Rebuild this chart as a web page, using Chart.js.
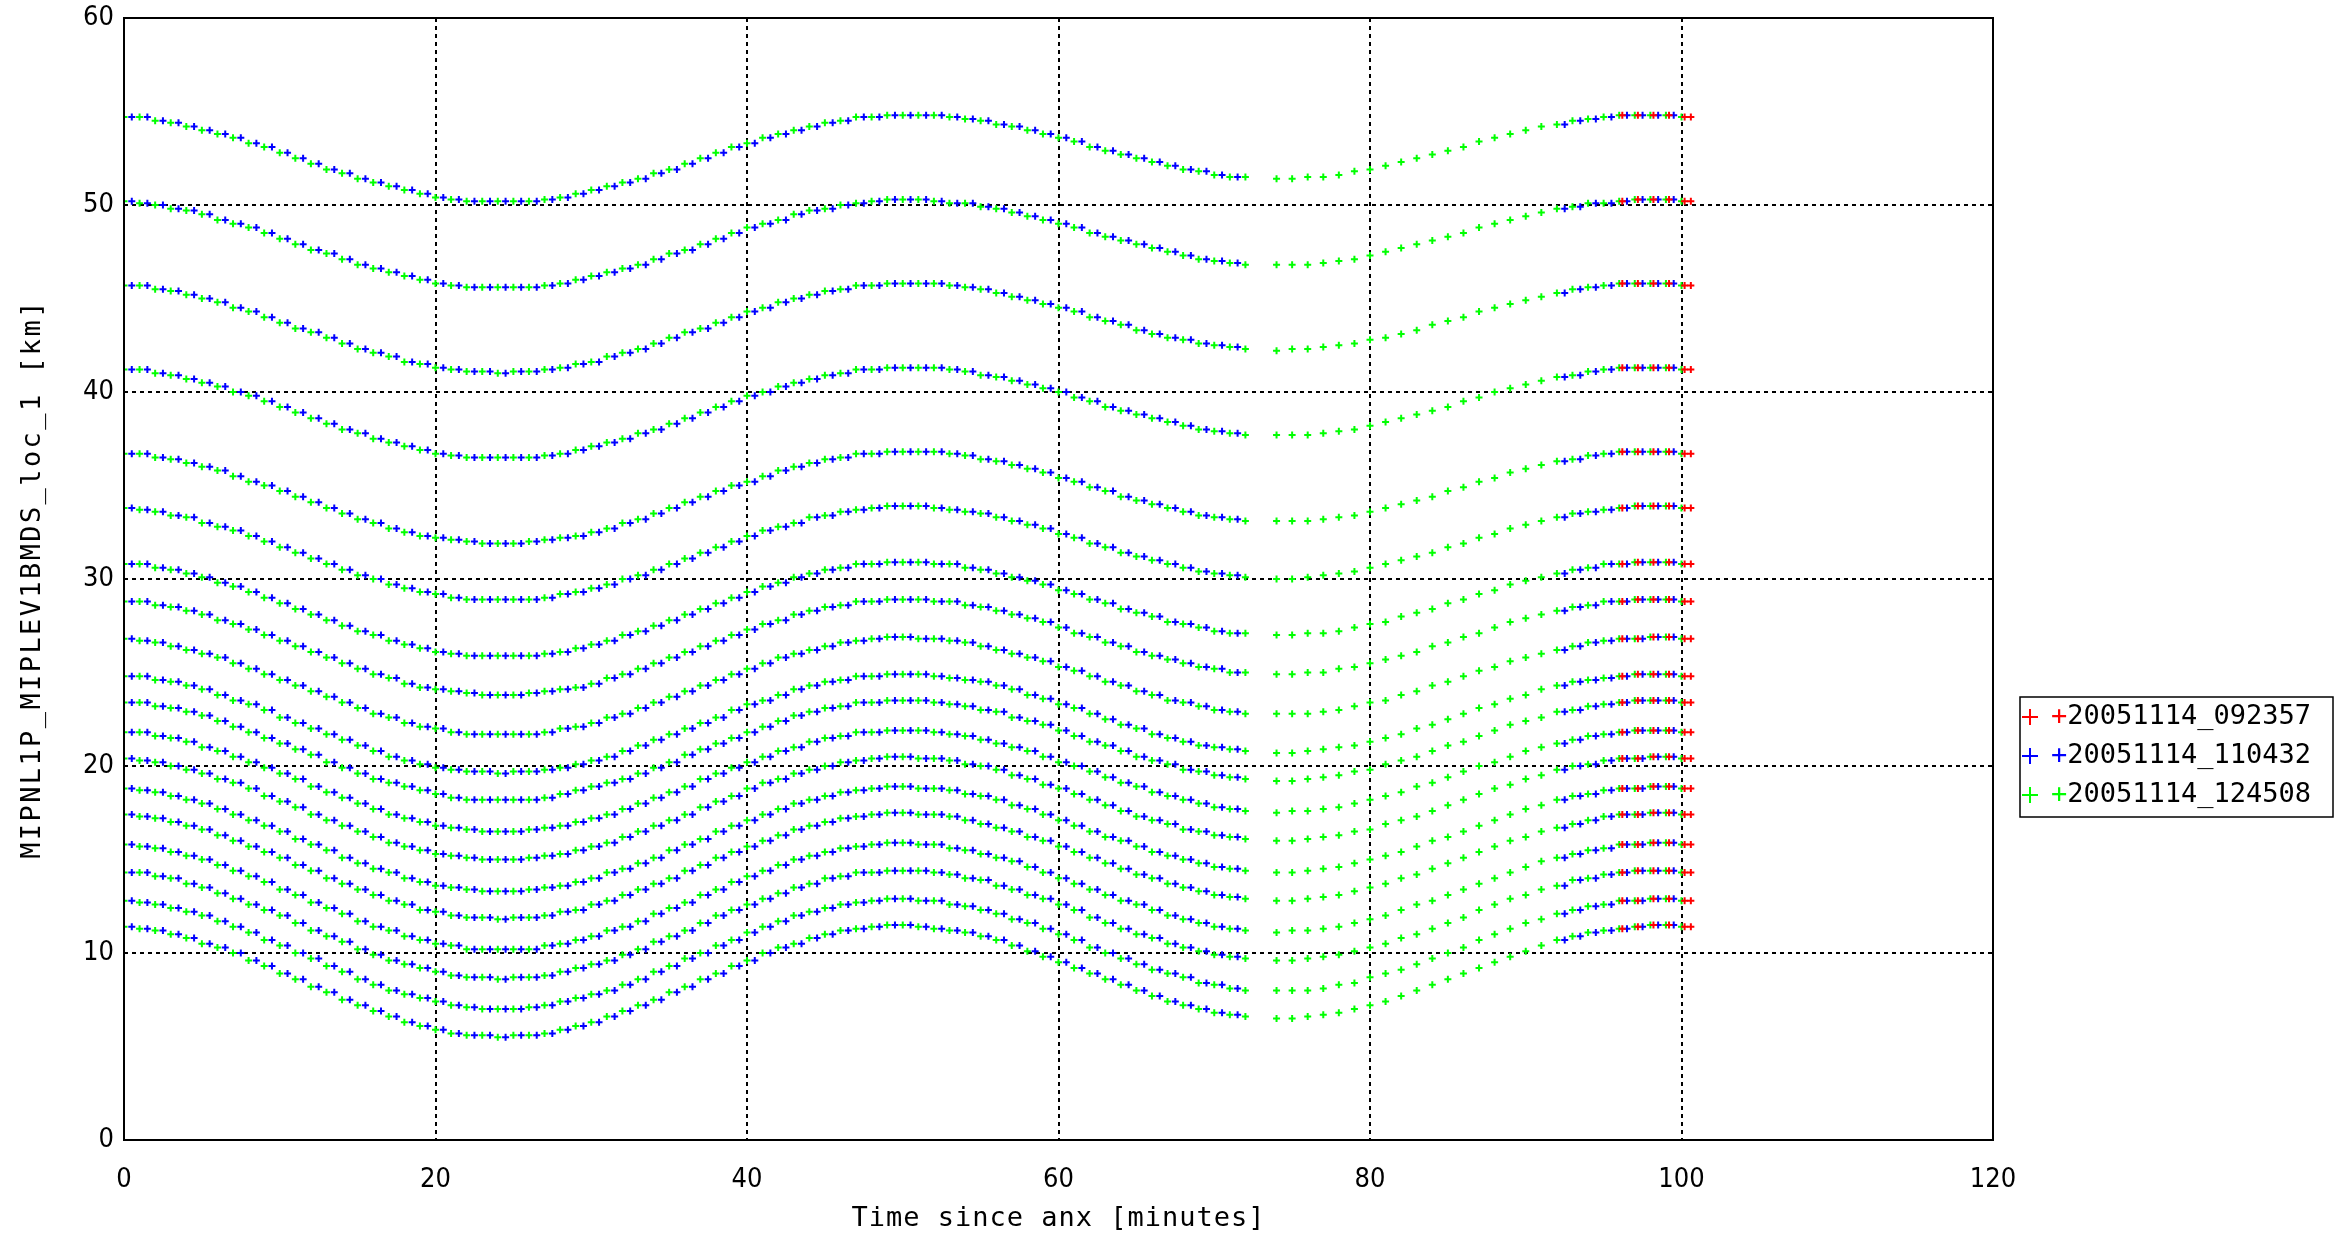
<!DOCTYPE html>
<html>
<head>
<meta charset="utf-8">
<title>MIPNL1P_MIPLEV1BMDS_loc_1</title>
<script src="https://cdn.jsdelivr.net/npm/chart.js@4.4.1/dist/chart.umd.min.js"></script>
<style>
    html, body { margin: 0; padding: 0; background: #fff; }
    canvas { display: block; }
</style>
</head>
<body>
<canvas id="tangentChart" width="2345" height="1241"></canvas>
<script>
// orbit names (legend)
const orbitNames = ['20051114_092357', '20051114_110432', '20051114_124508'];
const orbitColors = ['#ff0000', '#0000ff', '#00ff00'];

// axis ticks and titles
const xTickValues = [0, 20, 40, 60, 80, 100, 120];
const yTickValues = [0, 10, 20, 30, 40, 50, 60];
const xTitle = 'Time since anx [minutes]';
const yTitle = 'MIPNL1P_MIPLEV1BMDS_loc_1 [km]';

// sample times [minutes since anx] for each orbit
const redMinutes = [96.2, 97.2, 98.2, 99.2, 100.2, 100.6];
const blueMinutes = [
    0.5, 1.5, 2.5, 3.5, 4.5, 5.5, 6.5, 7.5, 8.5, 9.5, 10.5, 11.5, 12.5, 13.5, 14.5, 15.5, 16.5, 17.5,
    18.5, 19.5, 20.5, 21.5, 22.5, 23.5, 24.5, 25.5, 26.5, 27.5, 28.5, 29.5, 30.5, 31.5, 32.5, 33.5, 34.5, 35.5,
    36.5, 37.5, 38.5, 39.5, 40.5, 41.5, 42.5, 43.5, 44.5, 45.5, 46.5, 47.5, 48.5, 49.5, 50.5, 51.5, 52.5, 53.5,
    54.5, 55.5, 56.5, 57.5, 58.5, 59.5, 60.5, 61.5, 62.5, 63.5, 64.5, 65.5, 66.5, 67.5, 68.5, 69.5, 70.5, 71.5,
    92.5, 93.5, 94.5, 95.5, 96.5, 97.5, 98.5, 99.5
];
const greenMinutes = [
    0, 1, 2, 3, 4, 5, 6, 7, 8, 9, 10, 11, 12, 13, 14, 15, 16, 17, 18, 19, 20, 21, 22, 23, 24,
    25, 26, 27, 28, 29, 30, 31, 32, 33, 34, 35, 36, 37, 38, 39, 40, 41, 42, 43, 44, 45, 46, 47, 48, 49,
    50, 51, 52, 53, 54, 55, 56, 57, 58, 59, 60, 61, 62, 63, 64, 65, 66, 67, 68, 69, 70, 71, 72,
    74, 75, 76, 77, 78, 79, 80, 81, 82, 83, 84, 85, 86, 87, 88, 89, 90, 91, 92, 93, 94, 95, 96, 97, 98, 99, 100
];

// tangent altitude [km] of each sweep, one value per minute 0..100
const sweep01 = [
    54.7, 54.7, 54.5, 54.4, 54.2, 54.0, 53.8, 53.6, 53.3, 53.1, 52.8, 52.5, 52.2, 51.9, 51.7, 51.4, 51.2, 51.0, 50.8, 50.6, 50.4, 50.3, 50.2, 50.2, 50.2,
    50.2, 50.2, 50.3, 50.4, 50.6, 50.8, 51.0, 51.2, 51.4, 51.7, 51.9, 52.2, 52.5, 52.8, 53.1, 53.3, 53.6, 53.8, 54.0, 54.2, 54.4, 54.5, 54.7, 54.7,
    54.8, 54.8, 54.8, 54.8, 54.7, 54.6, 54.5, 54.3, 54.2, 54.0, 53.8, 53.6, 53.4, 53.1, 52.9, 52.7, 52.5, 52.3, 52.1, 51.9, 51.8, 51.6, 51.5, 51.5, 51.4, 51.4,
    51.4, 51.5, 51.5, 51.6, 51.8, 51.9, 52.1, 52.3, 52.5, 52.7, 52.9, 53.1, 53.4, 53.6, 53.8, 54.0, 54.2, 54.3, 54.5, 54.6, 54.7, 54.8, 54.8, 54.8, 54.8, 54.7
];
const sweep02 = [
    50.2, 50.1, 50.0, 49.8, 49.7, 49.5, 49.2, 49.0, 48.8, 48.5, 48.2, 47.9, 47.6, 47.4, 47.1, 46.8, 46.6, 46.4, 46.2, 46.0, 45.8, 45.7, 45.6, 45.6, 45.6,
    45.6, 45.6, 45.7, 45.8, 46.0, 46.2, 46.4, 46.6, 46.8, 47.1, 47.4, 47.6, 47.9, 48.2, 48.5, 48.8, 49.0, 49.2, 49.5, 49.7, 49.8, 50.0, 50.1, 50.2,
    50.3, 50.3, 50.3, 50.2, 50.1, 50.1, 49.9, 49.8, 49.6, 49.4, 49.2, 49.0, 48.8, 48.5, 48.3, 48.1, 47.9, 47.7, 47.5, 47.3, 47.1, 47.0, 46.9, 46.8, 46.8, 46.8,
    46.8, 46.8, 46.9, 47.0, 47.1, 47.3, 47.5, 47.7, 47.9, 48.1, 48.3, 48.5, 48.8, 49.0, 49.2, 49.4, 49.6, 49.8, 49.9, 50.1, 50.1, 50.2, 50.3, 50.3, 50.3, 50.2
];
const sweep03 = [
    45.7, 45.7, 45.5, 45.4, 45.2, 45.0, 44.8, 44.5, 44.3, 44.0, 43.7, 43.4, 43.2, 42.9, 42.6, 42.3, 42.1, 41.9, 41.6, 41.5, 41.3, 41.2, 41.1, 41.1, 41.0,
    41.1, 41.1, 41.2, 41.3, 41.5, 41.6, 41.9, 42.1, 42.3, 42.6, 42.9, 43.2, 43.4, 43.7, 44.0, 44.3, 44.5, 44.8, 45.0, 45.2, 45.4, 45.5, 45.7, 45.7,
    45.8, 45.8, 45.8, 45.8, 45.7, 45.6, 45.5, 45.3, 45.1, 44.9, 44.7, 44.5, 44.3, 44.0, 43.8, 43.6, 43.3, 43.1, 42.9, 42.8, 42.6, 42.5, 42.4, 42.3, 42.3, 42.2,
    42.3, 42.3, 42.4, 42.5, 42.6, 42.8, 42.9, 43.1, 43.3, 43.6, 43.8, 44.0, 44.3, 44.5, 44.7, 44.9, 45.1, 45.3, 45.5, 45.6, 45.7, 45.8, 45.8, 45.8, 45.8, 45.7
];
const sweep04 = [
    41.2, 41.2, 41.0, 40.9, 40.7, 40.5, 40.3, 40.0, 39.8, 39.5, 39.2, 38.9, 38.6, 38.3, 38.0, 37.8, 37.5, 37.3, 37.1, 36.9, 36.7, 36.6, 36.5, 36.5, 36.5,
    36.5, 36.5, 36.6, 36.7, 36.9, 37.1, 37.3, 37.5, 37.8, 38.0, 38.3, 38.6, 38.9, 39.2, 39.5, 39.8, 40.0, 40.3, 40.5, 40.7, 40.9, 41.0, 41.2, 41.2,
    41.3, 41.3, 41.3, 41.3, 41.2, 41.1, 40.9, 40.8, 40.6, 40.4, 40.2, 40.0, 39.7, 39.5, 39.2, 39.0, 38.8, 38.6, 38.4, 38.2, 38.0, 37.9, 37.8, 37.7, 37.7, 37.7,
    37.7, 37.7, 37.8, 37.9, 38.0, 38.2, 38.4, 38.6, 38.8, 39.0, 39.2, 39.5, 39.7, 40.0, 40.2, 40.4, 40.6, 40.8, 40.9, 41.1, 41.2, 41.3, 41.3, 41.3, 41.3, 41.2
];
const sweep05 = [
    36.7, 36.7, 36.5, 36.4, 36.2, 36.0, 35.8, 35.5, 35.2, 35.0, 34.7, 34.4, 34.1, 33.8, 33.5, 33.2, 33.0, 32.7, 32.5, 32.3, 32.2, 32.1, 32.0, 31.9, 31.9,
    31.9, 32.0, 32.1, 32.2, 32.3, 32.5, 32.7, 33.0, 33.2, 33.5, 33.8, 34.1, 34.4, 34.7, 35.0, 35.2, 35.5, 35.8, 36.0, 36.2, 36.4, 36.5, 36.7, 36.7,
    36.8, 36.8, 36.8, 36.8, 36.7, 36.6, 36.4, 36.3, 36.1, 35.9, 35.7, 35.4, 35.2, 34.9, 34.7, 34.4, 34.2, 34.0, 33.8, 33.6, 33.4, 33.3, 33.2, 33.1, 33.1, 33.1,
    33.1, 33.1, 33.2, 33.3, 33.4, 33.6, 33.8, 34.0, 34.2, 34.4, 34.7, 34.9, 35.2, 35.4, 35.7, 35.9, 36.1, 36.3, 36.4, 36.6, 36.7, 36.8, 36.8, 36.8, 36.8, 36.7
];
const sweep06 = [
    33.8, 33.7, 33.6, 33.4, 33.3, 33.0, 32.8, 32.6, 32.3, 32.0, 31.7, 31.4, 31.1, 30.8, 30.5, 30.2, 30.0, 29.7, 29.5, 29.3, 29.2, 29.0, 28.9, 28.9, 28.9,
    28.9, 28.9, 29.0, 29.2, 29.3, 29.5, 29.7, 30.0, 30.2, 30.5, 30.8, 31.1, 31.4, 31.7, 32.0, 32.3, 32.6, 32.8, 33.0, 33.3, 33.4, 33.6, 33.7, 33.8,
    33.9, 33.9, 33.9, 33.8, 33.7, 33.6, 33.5, 33.3, 33.1, 32.9, 32.7, 32.4, 32.2, 31.9, 31.7, 31.4, 31.2, 31.0, 30.8, 30.6, 30.4, 30.3, 30.2, 30.1, 30.0, 30.0,
    30.0, 30.1, 30.2, 30.3, 30.4, 30.6, 30.8, 31.0, 31.2, 31.4, 31.7, 31.9, 32.2, 32.4, 32.7, 32.9, 33.1, 33.3, 33.5, 33.6, 33.7, 33.8, 33.9, 33.9, 33.9, 33.8
];
const sweep07 = [
    30.8, 30.8, 30.6, 30.5, 30.3, 30.1, 29.8, 29.6, 29.3, 29.0, 28.7, 28.4, 28.1, 27.8, 27.5, 27.2, 27.0, 26.7, 26.5, 26.3, 26.1, 26.0, 25.9, 25.9, 25.9,
    25.9, 25.9, 26.0, 26.1, 26.3, 26.5, 26.7, 27.0, 27.2, 27.5, 27.8, 28.1, 28.4, 28.7, 29.0, 29.3, 29.6, 29.8, 30.1, 30.3, 30.5, 30.6, 30.8, 30.8,
    30.9, 30.9, 30.9, 30.8, 30.8, 30.6, 30.5, 30.3, 30.1, 29.9, 29.7, 29.4, 29.2, 28.9, 28.7, 28.4, 28.2, 28.0, 27.7, 27.6, 27.4, 27.2, 27.1, 27.1, 27.0, 27.0,
    27.0, 27.1, 27.1, 27.2, 27.4, 27.6, 27.7, 28.0, 28.2, 28.4, 28.7, 28.9, 29.2, 29.4, 29.7, 29.9, 30.1, 30.3, 30.5, 30.6, 30.8, 30.8, 30.9, 30.9, 30.9, 30.8
];
const sweep08 = [
    28.8, 28.8, 28.6, 28.5, 28.3, 28.1, 27.8, 27.6, 27.3, 27.0, 26.7, 26.4, 26.1, 25.8, 25.5, 25.2, 24.9, 24.7, 24.4, 24.2, 24.1, 24.0, 23.9, 23.8, 23.8,
    23.8, 23.9, 24.0, 24.1, 24.2, 24.4, 24.7, 24.9, 25.2, 25.5, 25.8, 26.1, 26.4, 26.7, 27.0, 27.3, 27.6, 27.8, 28.1, 28.3, 28.5, 28.6, 28.8, 28.8,
    28.9, 28.9, 28.9, 28.8, 28.8, 28.6, 28.5, 28.3, 28.1, 27.9, 27.7, 27.4, 27.1, 26.9, 26.6, 26.4, 26.1, 25.9, 25.7, 25.5, 25.3, 25.2, 25.0, 25.0, 24.9, 24.9,
    24.9, 25.0, 25.0, 25.2, 25.3, 25.5, 25.7, 25.9, 26.1, 26.4, 26.6, 26.9, 27.1, 27.4, 27.7, 27.9, 28.1, 28.3, 28.5, 28.6, 28.8, 28.8, 28.9, 28.9, 28.9, 28.8
];
const sweep09 = [
    26.8, 26.7, 26.6, 26.4, 26.2, 26.0, 25.8, 25.5, 25.2, 24.9, 24.6, 24.3, 24.0, 23.7, 23.4, 23.1, 22.8, 22.6, 22.3, 22.1, 22.0, 21.8, 21.7, 21.7, 21.7,
    21.7, 21.7, 21.8, 22.0, 22.1, 22.3, 22.6, 22.8, 23.1, 23.4, 23.7, 24.0, 24.3, 24.6, 24.9, 25.2, 25.5, 25.8, 26.0, 26.2, 26.4, 26.6, 26.7, 26.8,
    26.9, 26.9, 26.8, 26.8, 26.7, 26.6, 26.4, 26.2, 26.0, 25.8, 25.6, 25.3, 25.1, 24.8, 24.5, 24.3, 24.0, 23.8, 23.5, 23.4, 23.2, 23.0, 22.9, 22.8, 22.8, 22.8,
    22.8, 22.8, 22.9, 23.0, 23.2, 23.4, 23.5, 23.8, 24.0, 24.3, 24.5, 24.8, 25.1, 25.3, 25.6, 25.8, 26.0, 26.2, 26.4, 26.6, 26.7, 26.8, 26.8, 26.9, 26.9, 26.8
];
const sweep10 = [
    24.8, 24.8, 24.6, 24.5, 24.3, 24.1, 23.8, 23.5, 23.3, 23.0, 22.6, 22.3, 22.0, 21.7, 21.4, 21.1, 20.8, 20.5, 20.3, 20.1, 19.9, 19.8, 19.7, 19.7, 19.6,
    19.7, 19.7, 19.8, 19.9, 20.1, 20.3, 20.5, 20.8, 21.1, 21.4, 21.7, 22.0, 22.3, 22.6, 23.0, 23.3, 23.5, 23.8, 24.1, 24.3, 24.5, 24.6, 24.8, 24.8,
    24.9, 24.9, 24.9, 24.8, 24.7, 24.6, 24.5, 24.3, 24.1, 23.8, 23.6, 23.3, 23.1, 22.8, 22.5, 22.2, 22.0, 21.7, 21.5, 21.3, 21.1, 21.0, 20.9, 20.8, 20.7, 20.7,
    20.7, 20.8, 20.9, 21.0, 21.1, 21.3, 21.5, 21.7, 22.0, 22.2, 22.5, 22.8, 23.1, 23.3, 23.6, 23.8, 24.1, 24.3, 24.5, 24.6, 24.7, 24.8, 24.9, 24.9, 24.9, 24.8
];
const sweep11 = [
    23.4, 23.4, 23.2, 23.1, 22.9, 22.7, 22.4, 22.1, 21.8, 21.5, 21.2, 20.9, 20.6, 20.2, 19.9, 19.6, 19.3, 19.1, 18.9, 18.7, 18.5, 18.3, 18.2, 18.2, 18.2,
    18.2, 18.2, 18.3, 18.5, 18.7, 18.9, 19.1, 19.3, 19.6, 19.9, 20.2, 20.6, 20.9, 21.2, 21.5, 21.8, 22.1, 22.4, 22.7, 22.9, 23.1, 23.2, 23.4, 23.4,
    23.5, 23.5, 23.5, 23.4, 23.3, 23.2, 23.0, 22.9, 22.6, 22.4, 22.2, 21.9, 21.6, 21.3, 21.1, 20.8, 20.5, 20.3, 20.1, 19.8, 19.7, 19.5, 19.4, 19.3, 19.2, 19.2,
    19.2, 19.3, 19.4, 19.5, 19.7, 19.8, 20.1, 20.3, 20.5, 20.8, 21.1, 21.3, 21.6, 21.9, 22.2, 22.4, 22.6, 22.9, 23.0, 23.2, 23.3, 23.4, 23.5, 23.5, 23.5, 23.4
];
const sweep12 = [
    21.8, 21.8, 21.6, 21.5, 21.3, 21.0, 20.8, 20.5, 20.2, 19.9, 19.6, 19.3, 18.9, 18.6, 18.3, 18.0, 17.7, 17.4, 17.2, 17.0, 16.8, 16.7, 16.6, 16.5, 16.5,
    16.5, 16.6, 16.7, 16.8, 17.0, 17.2, 17.4, 17.7, 18.0, 18.3, 18.6, 18.9, 19.3, 19.6, 19.9, 20.2, 20.5, 20.8, 21.0, 21.3, 21.5, 21.6, 21.8, 21.8,
    21.9, 21.9, 21.9, 21.8, 21.7, 21.6, 21.4, 21.2, 21.0, 20.8, 20.5, 20.2, 20.0, 19.7, 19.4, 19.1, 18.9, 18.6, 18.4, 18.2, 18.0, 17.8, 17.7, 17.6, 17.6, 17.5,
    17.6, 17.6, 17.7, 17.8, 18.0, 18.2, 18.4, 18.6, 18.9, 19.1, 19.4, 19.7, 20.0, 20.2, 20.5, 20.8, 21.0, 21.2, 21.4, 21.6, 21.7, 21.8, 21.9, 21.9, 21.9, 21.8
];
const sweep13 = [
    20.4, 20.3, 20.2, 20.0, 19.8, 19.6, 19.3, 19.1, 18.8, 18.4, 18.1, 17.8, 17.4, 17.1, 16.8, 16.5, 16.2, 15.9, 15.7, 15.5, 15.3, 15.2, 15.1, 15.0, 15.0,
    15.0, 15.1, 15.2, 15.3, 15.5, 15.7, 15.9, 16.2, 16.5, 16.8, 17.1, 17.4, 17.8, 18.1, 18.4, 18.8, 19.1, 19.3, 19.6, 19.8, 20.0, 20.2, 20.3, 20.4,
    20.5, 20.5, 20.4, 20.4, 20.3, 20.1, 20.0, 19.8, 19.5, 19.3, 19.0, 18.8, 18.5, 18.2, 17.9, 17.6, 17.3, 17.1, 16.9, 16.6, 16.5, 16.3, 16.2, 16.1, 16.0, 16.0,
    16.0, 16.1, 16.2, 16.3, 16.5, 16.6, 16.9, 17.1, 17.3, 17.6, 17.9, 18.2, 18.5, 18.8, 19.0, 19.3, 19.5, 19.8, 20.0, 20.1, 20.3, 20.4, 20.4, 20.5, 20.5, 20.4
];
const sweep14 = [
    18.8, 18.7, 18.6, 18.4, 18.2, 18.0, 17.7, 17.4, 17.1, 16.8, 16.5, 16.1, 15.8, 15.5, 15.1, 14.8, 14.5, 14.3, 14.0, 13.8, 13.6, 13.5, 13.4, 13.3, 13.3,
    13.3, 13.4, 13.5, 13.6, 13.8, 14.0, 14.3, 14.5, 14.8, 15.1, 15.5, 15.8, 16.1, 16.5, 16.8, 17.1, 17.4, 17.7, 18.0, 18.2, 18.4, 18.6, 18.7, 18.8,
    18.9, 18.9, 18.8, 18.8, 18.7, 18.5, 18.4, 18.2, 17.9, 17.7, 17.4, 17.1, 16.8, 16.5, 16.2, 16.0, 15.7, 15.4, 15.2, 15.0, 14.8, 14.6, 14.5, 14.4, 14.3, 14.3,
    14.3, 14.4, 14.5, 14.6, 14.8, 15.0, 15.2, 15.4, 15.7, 16.0, 16.2, 16.5, 16.8, 17.1, 17.4, 17.7, 17.9, 18.2, 18.4, 18.5, 18.7, 18.8, 18.8, 18.9, 18.9, 18.8
];
const sweep15 = [
    17.4, 17.3, 17.2, 17.0, 16.8, 16.6, 16.3, 16.0, 15.7, 15.4, 15.1, 14.7, 14.4, 14.0, 13.7, 13.4, 13.1, 12.8, 12.6, 12.3, 12.2, 12.0, 11.9, 11.9, 11.8,
    11.9, 11.9, 12.0, 12.2, 12.3, 12.6, 12.8, 13.1, 13.4, 13.7, 14.0, 14.4, 14.7, 15.1, 15.4, 15.7, 16.0, 16.3, 16.6, 16.8, 17.0, 17.2, 17.3, 17.4,
    17.5, 17.5, 17.4, 17.4, 17.3, 17.1, 16.9, 16.7, 16.5, 16.2, 16.0, 15.7, 15.4, 15.1, 14.8, 14.5, 14.2, 14.0, 13.7, 13.5, 13.3, 13.1, 13.0, 12.9, 12.8, 12.8,
    12.8, 12.9, 13.0, 13.1, 13.3, 13.5, 13.7, 14.0, 14.2, 14.5, 14.8, 15.1, 15.4, 15.7, 16.0, 16.2, 16.5, 16.7, 16.9, 17.1, 17.3, 17.4, 17.4, 17.5, 17.5, 17.4
];
const sweep16 = [
    15.8, 15.7, 15.6, 15.4, 15.2, 15.0, 14.7, 14.4, 14.1, 13.8, 13.4, 13.1, 12.7, 12.4, 12.1, 11.7, 11.4, 11.2, 10.9, 10.7, 10.5, 10.4, 10.2, 10.2, 10.2,
    10.2, 10.2, 10.4, 10.5, 10.7, 10.9, 11.2, 11.4, 11.7, 12.1, 12.4, 12.7, 13.1, 13.4, 13.8, 14.1, 14.4, 14.7, 15.0, 15.2, 15.4, 15.6, 15.7, 15.8,
    15.9, 15.9, 15.8, 15.8, 15.6, 15.5, 15.3, 15.1, 14.9, 14.6, 14.3, 14.0, 13.7, 13.4, 13.1, 12.8, 12.6, 12.3, 12.0, 11.8, 11.6, 11.4, 11.3, 11.2, 11.2, 11.1,
    11.2, 11.2, 11.3, 11.4, 11.6, 11.8, 12.0, 12.3, 12.6, 12.8, 13.1, 13.4, 13.7, 14.0, 14.3, 14.6, 14.9, 15.1, 15.3, 15.5, 15.6, 15.8, 15.8, 15.9, 15.9, 15.8
];
const sweep17 = [
    14.3, 14.3, 14.1, 14.0, 13.7, 13.5, 13.2, 12.9, 12.6, 12.3, 12.0, 11.6, 11.2, 10.9, 10.6, 10.2, 9.9, 9.6, 9.4, 9.2, 9.0, 8.8, 8.7, 8.7, 8.6,
    8.7, 8.7, 8.8, 9.0, 9.2, 9.4, 9.6, 9.9, 10.2, 10.6, 10.9, 11.2, 11.6, 12.0, 12.3, 12.6, 12.9, 13.2, 13.5, 13.7, 14.0, 14.1, 14.3, 14.3,
    14.4, 14.4, 14.4, 14.3, 14.2, 14.0, 13.9, 13.6, 13.4, 13.1, 12.9, 12.6, 12.3, 11.9, 11.6, 11.3, 11.0, 10.8, 10.5, 10.3, 10.1, 9.9, 9.8, 9.7, 9.6, 9.6,
    9.6, 9.7, 9.8, 9.9, 10.1, 10.3, 10.5, 10.8, 11.0, 11.3, 11.6, 11.9, 12.3, 12.6, 12.9, 13.1, 13.4, 13.6, 13.9, 14.0, 14.2, 14.3, 14.4, 14.4, 14.4, 14.3
];
const sweep18 = [
    12.8, 12.7, 12.6, 12.4, 12.2, 12.0, 11.7, 11.4, 11.1, 10.7, 10.4, 10.0, 9.7, 9.3, 9.0, 8.6, 8.3, 8.0, 7.8, 7.6, 7.4, 7.2, 7.1, 7.0, 7.0,
    7.0, 7.1, 7.2, 7.4, 7.6, 7.8, 8.0, 8.3, 8.6, 9.0, 9.3, 9.7, 10.0, 10.4, 10.7, 11.1, 11.4, 11.7, 12.0, 12.2, 12.4, 12.6, 12.7, 12.8,
    12.9, 12.9, 12.8, 12.8, 12.6, 12.5, 12.3, 12.1, 11.8, 11.6, 11.3, 11.0, 10.7, 10.3, 10.0, 9.7, 9.4, 9.1, 8.9, 8.7, 8.4, 8.3, 8.1, 8.0, 8.0, 8.0,
    8.0, 8.0, 8.1, 8.3, 8.4, 8.7, 8.9, 9.1, 9.4, 9.7, 10.0, 10.3, 10.7, 11.0, 11.3, 11.6, 11.8, 12.1, 12.3, 12.5, 12.6, 12.8, 12.8, 12.9, 12.9, 12.8
];
const sweep19 = [
    11.4, 11.3, 11.2, 11.0, 10.8, 10.5, 10.3, 10.0, 9.6, 9.3, 8.9, 8.6, 8.2, 7.9, 7.5, 7.2, 6.9, 6.6, 6.3, 6.1, 5.9, 5.7, 5.6, 5.6, 5.5,
    5.6, 5.6, 5.7, 5.9, 6.1, 6.3, 6.6, 6.9, 7.2, 7.5, 7.9, 8.2, 8.6, 8.9, 9.3, 9.6, 10.0, 10.3, 10.5, 10.8, 11.0, 11.2, 11.3, 11.4,
    11.5, 11.5, 11.4, 11.3, 11.2, 11.1, 10.9, 10.7, 10.4, 10.1, 9.8, 9.5, 9.2, 8.9, 8.6, 8.3, 8.0, 7.7, 7.4, 7.2, 7.0, 6.8, 6.7, 6.6, 6.5, 6.5,
    6.5, 6.6, 6.7, 6.8, 7.0, 7.2, 7.4, 7.7, 8.0, 8.3, 8.6, 8.9, 9.2, 9.5, 9.8, 10.1, 10.4, 10.7, 10.9, 11.1, 11.2, 11.3, 11.4, 11.5, 11.5, 11.4
];

const sweeps = [sweep01, sweep02, sweep03, sweep04, sweep05, sweep06, sweep07, sweep08, sweep09, sweep10,
    sweep11, sweep12, sweep13, sweep14, sweep15, sweep16, sweep17, sweep18, sweep19];

// one scatter point per sweep and sample time
function orbitPoints(minutes) {
    const pts = [];
    sweeps.forEach(sweep => {
        minutes.forEach(m => {
            pts.push({x: m, y: sweep[Math.floor(m)]});
        });
    });
    return pts;
}

const FONT = "'DejaVu Sans Mono', monospace";
const TICK_FONT = "'Liberation Sans Narrow', 'DejaVu Sans Condensed', 'DejaVu Sans Mono', monospace";
Chart.defaults.font.family = FONT;
Chart.defaults.font.size = 27;
Chart.defaults.color = '#000';

// frame, axis titles and the boxed legend at the right
const frameAndLegend = {
    id: 'frameAndLegend',
    afterDraw(chart) {
        const ctx = chart.ctx;
        const a = chart.chartArea;
        ctx.save();
        ctx.strokeStyle = '#000';
        ctx.lineWidth = 2;
        ctx.strokeRect(a.left, a.top, a.right - a.left, a.bottom - a.top);

        // axis titles
        ctx.fillStyle = '#000';
        ctx.font = '27px ' + FONT;
        ctx.textAlign = 'center';
        ctx.textBaseline = 'middle';
        ctx.letterSpacing = '1px';
        ctx.fillText(xTitle, (a.left + a.right) / 2, a.bottom + 79);
        ctx.save();
        ctx.translate(33, (a.top + a.bottom) / 2);
        ctx.rotate(-Math.PI / 2);
        ctx.letterSpacing = '2.4px';
        ctx.fillText(yTitle, 0, 0);
        ctx.restore();
        ctx.letterSpacing = '0px';

        // legend
        const left = a.right + 27;
        const top = a.top + 679;
        ctx.lineWidth = 1.5;
        ctx.strokeRect(left, top, 313, 120);
        ctx.textAlign = 'left';
        chart.data.datasets.forEach((ds, i) => {
            const y = top + 20 + i * 39;
            ctx.strokeStyle = ds.borderColor;
            ctx.lineWidth = 2;
            ctx.beginPath();
            ctx.moveTo(left + 2, y);
            ctx.lineTo(left + 18, y);
            ctx.moveTo(left + 10, y - 8);
            ctx.lineTo(left + 10, y + 8);
            ctx.stroke();
            ctx.fillStyle = ds.borderColor;
            ctx.fillText('+', left + 31, y);
            ctx.fillStyle = '#000';
            ctx.fillText(ds.label, left + 31 + ctx.measureText('+').width, y);
        });
        ctx.restore();
    }
};

const gridStyle = {color: '#000', lineWidth: 2, drawTicks: false};
const borderStyle = {display: false, dash: [4, 4]};

new Chart(document.getElementById('tangentChart'), {
    type: 'scatter',
    data: {
        datasets: [
            {label: orbitNames[0], data: orbitPoints(redMinutes), borderColor: orbitColors[0], backgroundColor: orbitColors[0], order: 0},
            {label: orbitNames[1], data: orbitPoints(blueMinutes), borderColor: orbitColors[1], backgroundColor: orbitColors[1], order: 2},
            {label: orbitNames[2], data: orbitPoints(greenMinutes), borderColor: orbitColors[2], backgroundColor: orbitColors[2], order: 1}
        ]
    },
    options: {
        responsive: false,
        animation: false,
        devicePixelRatio: 1,
        events: [],
        layout: {padding: {top: 18, right: 352, left: 0, bottom: 0}},
        elements: {
            point: {pointStyle: 'cross', radius: 3.5, borderWidth: 2, hoverRadius: 3.5}
        },
        plugins: {
            legend: {display: false},
            tooltip: {enabled: false}
        },
        scales: {
            x: {
                type: 'linear',
                min: 0,
                max: 120,
                afterBuildTicks: axis => { axis.ticks = xTickValues.map(v => ({value: v})); },
                afterFit: axis => { axis.height = 101; axis.paddingLeft = 0; axis.paddingRight = 0; },
                grid: gridStyle,
                border: borderStyle,
                ticks: {padding: 24, maxRotation: 0, autoSkip: false, font: {family: TICK_FONT, size: 27}}
            },
            y: {
                type: 'linear',
                min: 0,
                max: 60,
                afterBuildTicks: axis => { axis.ticks = yTickValues.map(v => ({value: v})); },
                afterFit: axis => { axis.width = 124; axis.paddingTop = 0; axis.paddingBottom = 0; },
                grid: gridStyle,
                border: borderStyle,
                ticks: {padding: 10, autoSkip: false, font: {family: TICK_FONT, size: 27}}
            }
        }
    },
    plugins: [frameAndLegend]
});
</script>
</body>
</html>
